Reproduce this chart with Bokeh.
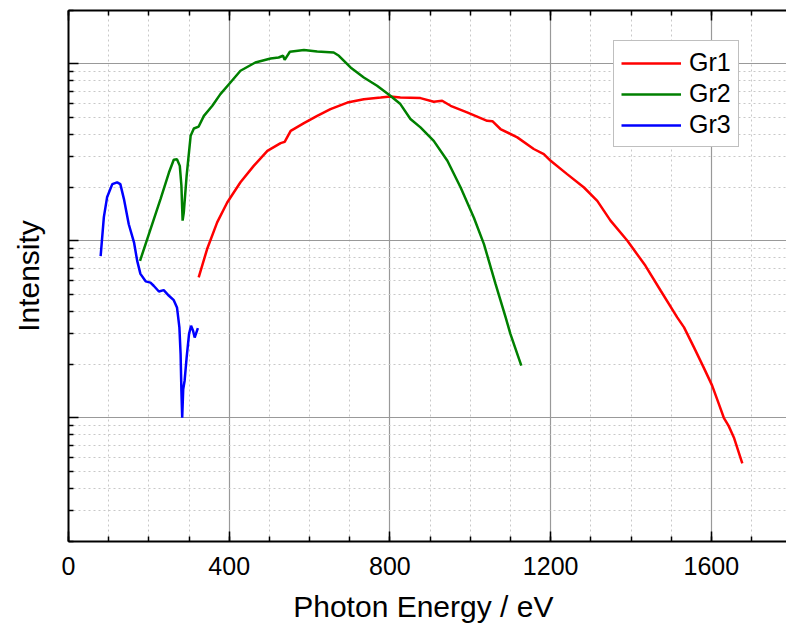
from bokeh.plotting import figure
from bokeh.models import (Range1d, LinearAxis, FixedTicker, SingleIntervalTicker,
                          Legend, LegendItem, CustomJSTickFormatter)
from bokeh.embed import file_html
from bokeh.resources import INLINE

# ---- data ----
gr1_x = [324, 345, 370, 395, 428, 461, 495, 528, 538, 553, 586, 619, 652, 694, 735, 777,
         801, 826, 851, 876, 909, 930, 951, 992, 1042, 1055, 1075, 1117, 1158, 1183, 1200,
         1241, 1283, 1316, 1349, 1391, 1436, 1474, 1515, 1532, 1557, 1581, 1602, 1619,
         1631, 1643, 1656, 1677]
gr1_y = [0.0621, 0.0898, 0.127, 0.1645, 0.214, 0.265, 0.322, 0.356, 0.362, 0.418, 0.462,
         0.508, 0.554, 0.604, 0.631, 0.645, 0.654, 0.645, 0.643, 0.640, 0.610, 0.618, 0.579,
         0.531, 0.476, 0.474, 0.428, 0.384, 0.330, 0.309, 0.283, 0.238, 0.200, 0.168, 0.130,
         0.100, 0.0722, 0.0522, 0.0369, 0.0324, 0.0249, 0.0192, 0.0152, 0.0119, 0.0100,
         0.0090, 0.00774, 0.00552]

gr2_x = [178, 204, 229, 250, 262, 270, 277, 281, 284, 287, 294, 304, 312, 324, 337, 358,
         378, 403, 428, 465, 503, 523, 534, 538, 551, 586, 619, 660, 673, 702, 735, 768,
         801, 826, 851, 876, 909, 943, 976, 1009, 1034, 1063, 1088, 1100, 1127]
gr2_y = [0.077, 0.116, 0.172, 0.243, 0.287, 0.289, 0.265, 0.205, 0.130, 0.145, 0.233,
         0.392, 0.431, 0.442, 0.508, 0.579, 0.674, 0.784, 0.913, 1.017, 1.071, 1.085, 1.11,
         1.053, 1.169, 1.195, 1.173, 1.158, 1.11, 0.953, 0.837, 0.751, 0.660, 0.592, 0.488,
         0.437, 0.367, 0.283, 0.200, 0.135, 0.0958, 0.0569, 0.0369, 0.0297, 0.0197]

gr3_x = [80, 88, 96, 109, 121, 129, 138, 150, 163, 171, 179, 192, 204, 212, 225, 237, 250,
         262, 270, 276, 279, 281, 283, 285.5, 289, 294, 300, 305, 310, 314, 322]
gr3_y = [0.082, 0.136, 0.176, 0.209, 0.214, 0.209, 0.172, 0.124, 0.098, 0.077, 0.065,
         0.059, 0.058, 0.0557, 0.0517, 0.0526, 0.0489, 0.0462, 0.042, 0.0324, 0.0229,
         0.0142, 0.0100, 0.0145, 0.0162, 0.0219, 0.0297, 0.0331, 0.031, 0.0284, 0.0321]

series_names = ["Gr1", "Gr2", "Gr3"]
x_major_ticks_interval = 400
y_major_ticks = [0.01, 0.1, 1]

FONT = "Liberation Sans"

p = figure(width=786, height=627, y_axis_type="log",
           x_range=Range1d(0, 1787), y_range=Range1d(0.002, 2),
           output_backend="svg", toolbar_location=None,
           min_border_left=68, min_border_right=0, min_border_top=10, min_border_bottom=86,
           background_fill_color="white", border_fill_color="white")
p.outline_line_color = None

blank = CustomJSTickFormatter(code="return ''")

xticker = SingleIntervalTicker(interval=x_major_ticks_interval, num_minor_ticks=4)
yminor = [m * 10.0 ** e for e in (-3, -2, -1, 0) for m in range(2, 10)]
yticker = FixedTicker(ticks=y_major_ticks, minor_ticks=yminor)

def style_axis(ax):
    ax.axis_line_color = "black"
    ax.axis_line_width = 2
    ax.major_tick_line_color = "black"
    ax.minor_tick_line_color = "black"
    ax.major_tick_line_width = 1.5
    ax.minor_tick_line_width = 1.5
    ax.major_tick_in = 10
    ax.major_tick_out = 0
    ax.minor_tick_in = 5
    ax.minor_tick_out = 0

xa = p.xaxis[0]
xa.ticker = xticker
style_axis(xa)
xa.major_label_text_font = FONT
xa.major_label_text_font_size = "25px"
xa.major_label_text_color = "black"
xa.major_label_standoff = 15
xa.axis_label = "Photon Energy  / eV"
xa.axis_label_text_font = FONT
xa.axis_label_text_font_size = "30px"
xa.axis_label_text_font_style = "normal"
xa.axis_label_text_color = "black"
xa.axis_label_standoff = 12

ya = p.yaxis[0]
ya.ticker = yticker
style_axis(ya)
ya.formatter = blank
ya.major_label_text_font_size = "1px"
ya.major_label_standoff = 0
ya.axis_label = "Intensity"
ya.axis_label_text_font = FONT
ya.axis_label_text_font_size = "30px"
ya.axis_label_text_font_style = "normal"
ya.axis_label_text_color = "black"
ya.axis_label_standoff = 24

top = LinearAxis(ticker=xticker, formatter=blank)
style_axis(top)
top.major_label_text_font_size = "1px"
top.major_label_standoff = 0
p.add_layout(top, "above")

p.xgrid.ticker = xticker
p.ygrid.ticker = yticker
for g in (p.xgrid[0], p.ygrid[0]):
    g.grid_line_color = "#999999"
    g.grid_line_width = 1.2
    g.minor_grid_line_color = "#c8c8c8"
    g.minor_grid_line_width = 1
    g.minor_grid_line_dash = "2 3"

r1 = p.line(gr1_x, gr1_y, line_color="#ff0000", line_width=2.5)
r2 = p.line(gr2_x, gr2_y, line_color="#008000", line_width=2.5)
r3 = p.line(gr3_x, gr3_y, line_color="#0000ff", line_width=2.5)

legend = Legend(items=[LegendItem(label=series_names[0], renderers=[r1]),
                       LegendItem(label=series_names[1], renderers=[r2]),
                       LegendItem(label=series_names[2], renderers=[r3])],
                location=(545, 394))
legend.label_text_font = FONT
legend.label_text_font_size = "25px"
legend.label_text_color = "black"
legend.glyph_width = 60
legend.glyph_height = 28
legend.label_height = 28
legend.label_standoff = 8
legend.padding = 7
legend.spacing = 2
legend.margin = 0
legend.border_line_color = "#808080"
legend.border_line_width = 1.5
legend.background_fill_color = "white"
legend.background_fill_alpha = 1
p.add_layout(legend)

open("out.html", "w").write(file_html(p, INLINE))
